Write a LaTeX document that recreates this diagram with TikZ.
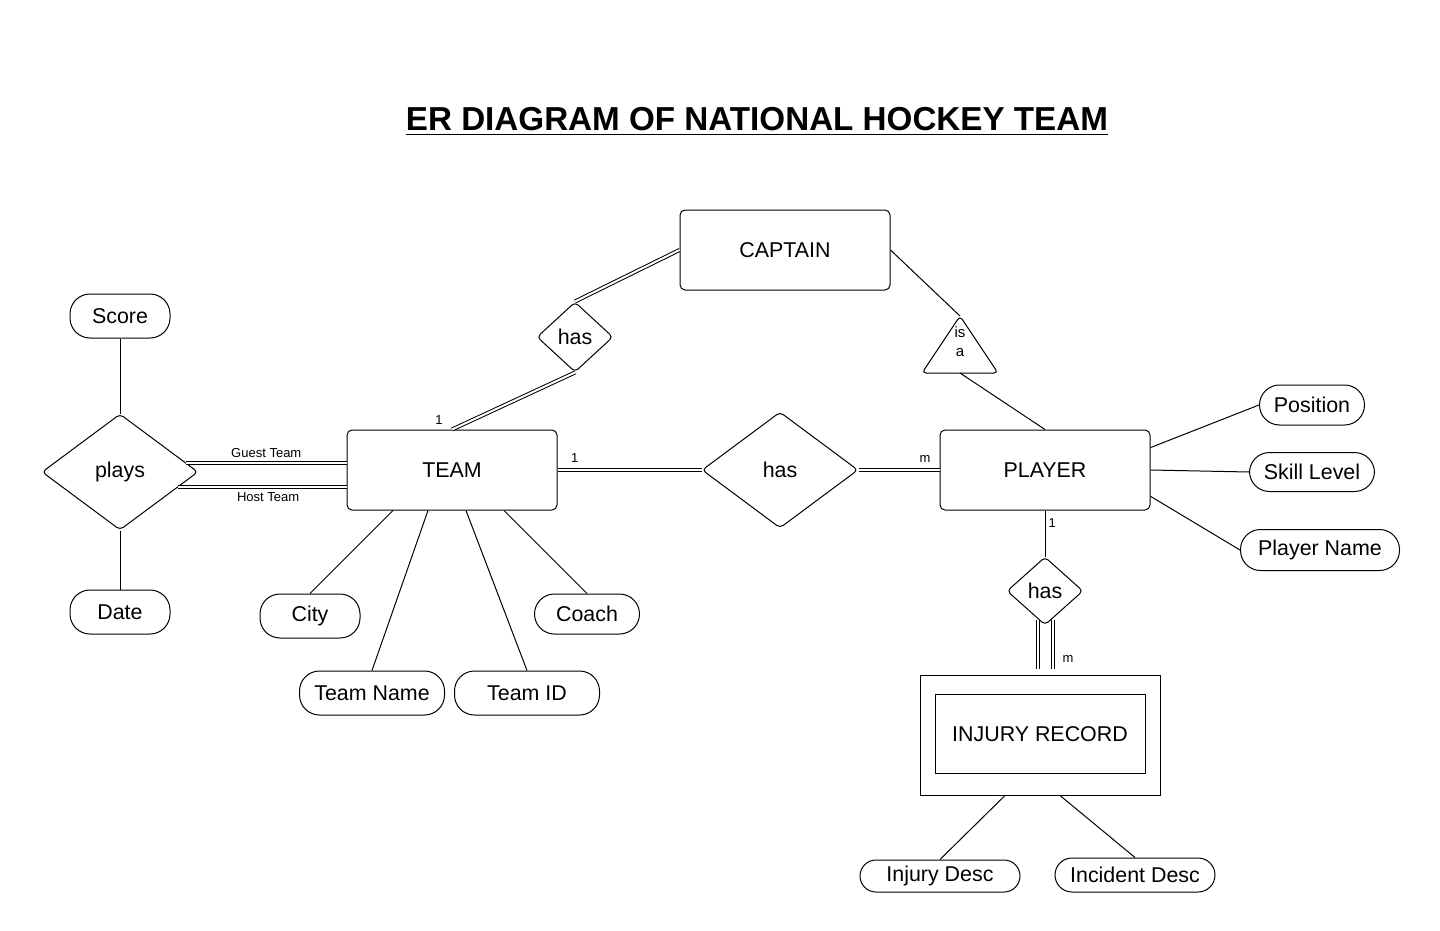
\documentclass[tikz,border=0pt]{standalone}
\usepackage{fontspec}
\setmainfont{Liberation Sans}
\usetikzlibrary{shapes, shapes.geometric}

\begin{document}
\begin{tikzpicture}[x=0.5pt, y=-0.5pt, line width=0.5pt,
  entity/.style={draw, rounded corners=2.5pt, minimum width=105pt, minimum height=40pt, font=\fontsize{10.7}{12}\selectfont},
  rel/.style={draw, diamond, rounded corners=2pt, inner sep=0pt, font=\fontsize{10.7}{12}\selectfont},
  attr/.style={draw, rounded corners=10pt, inner sep=0pt, font=\fontsize{10.7}{12}\selectfont},
  dbl/.style={double, double distance=1pt},
  card/.style={font=\fontsize{6.5}{7}\selectfont, inner sep=1.5pt}]
\useasboundingbox (0,0) rectangle (1440,931);

\node[anchor=base] (title) at (757,131) {\fontsize{16.6}{20}\selectfont\bfseries\underline{ER DIAGRAM OF NATIONAL HOCKEY TEAM}};

% entities
\node[entity] (captain) at (785,250) {CAPTAIN};
\node[entity] (team) at (452,470) {TEAM};
\node[entity] (player) at (1045,470) {PLAYER};
\node[draw, minimum width=120pt, minimum height=60pt] (injury) at (1040,735) {};
\node[draw, minimum width=105pt, minimum height=39.5pt, font=\fontsize{10.7}{12}\selectfont] (injuryin) at (1040,734) {INJURY RECORD};

% relationships
\node[rel, minimum width=38pt, minimum height=35pt] (hascap) at (575,337) {has};
\node[rel, minimum width=78pt, minimum height=58pt] (plays) at (120,472) {plays};
\node[rel, minimum width=78pt, minimum height=58pt] (hasplayer) at (780,470) {has};
\node[rel, minimum width=38pt, minimum height=34pt] (hasinjury) at (1045,591) {has};
\draw[rounded corners=2pt] (922,373) -- (960,316) -- (998,373) -- cycle;
\coordinate (isatop) at (960,316);
\coordinate (isabot) at (960,373);
\node[font=\fontsize{7.5}{9.5}\selectfont, align=center] (isa) at (960,342) {is\\a};

% attributes
\node[attr, minimum width=50pt, minimum height=22pt] (score) at (120,316) {Score};
\node[attr, minimum width=50pt, minimum height=22pt] (date) at (120,612) {Date};
\node[attr, minimum width=50pt, minimum height=22pt] (city) at (310,616) {City};
\node[attr, minimum width=52.5pt, minimum height=20pt] (coach) at (587,614) {Coach};
\node[attr, minimum width=72.5pt, minimum height=22pt] (teamname) at (372,693) {Team Name};
\node[attr, minimum width=72.5pt, minimum height=22pt] (teamid) at (527,693) {Team ID};
\node[attr, minimum width=52.5pt, minimum height=20pt] (position) at (1312,405) {Position};
\node[attr, minimum width=62.5pt, minimum height=19.5pt] (skill) at (1312,472) {Skill Level};
\node[attr, minimum width=79.5pt, minimum height=20.5pt] (playername) at (1320,550) {Player Name};
\node[attr, rounded corners=8pt, minimum width=80pt, minimum height=16pt] (injdesc) at (940,876) {Injury Desc};
\node[attr, rounded corners=8.5pt, minimum width=80pt, minimum height=17pt] (incdesc) at (1135,875) {Incident Desc};

% connectors
\draw[dbl] (team.north) -- node[card, pos=0, above left, xshift=-3pt, yshift=1pt] {1} (hascap.south);
\draw[dbl] (hascap.north) -- (captain.west);
\draw (captain.east) -- (isatop);
\draw (isabot) -- (player.north);
\draw[dbl] (team.east) -- node[card, pos=0.12, above, yshift=2pt] {1} (hasplayer.west);
\draw[dbl] (hasplayer.east) -- node[card, pos=0.82, above, yshift=2pt] {m} (player.west);
\draw (player.south) -- node[card, pos=0.28, right] {1} (hasinjury.north);
\draw[dbl] ([xshift=-3.5pt,yshift=3pt]hasinjury.south) -- ([xshift=-3.5pt,yshift=3pt]hasinjury.south |- injury.north);
\draw[dbl] ([xshift=4pt,yshift=3pt]hasinjury.south) -- node[card, pos=0.8, right, xshift=3pt] {m} ([xshift=4pt,yshift=3pt]hasinjury.south |- injury.north);
\draw (player.12) -- (position.west);
\draw (player.east) -- (skill.west);
\draw (player.-14) -- (playername.west);
\draw ([xshift=-17.5pt]injury.south) -- (injdesc.north);
\draw ([xshift=10pt]injury.south) -- (incdesc.north);
\draw ([xshift=-29.5pt]team.south) -- (city.north);
\draw ([xshift=-12pt]team.south) -- (teamname.north);
\draw ([xshift=7pt]team.south) -- (teamid.north);
\draw ([xshift=26pt]team.south) -- (coach.north);
\draw (score.south) -- (plays.north);
\draw (plays.south) -- (date.north);
\draw[dbl] (plays.8.8) -- node[card, above, yshift=1pt] {Guest Team} (plays.8.8 -| team.west);
\draw[dbl] (plays.-15) -- node[card, below, yshift=-1pt, xshift=3pt] {Host Team} (plays.-15 -| team.west);
\end{tikzpicture}
\end{document}
